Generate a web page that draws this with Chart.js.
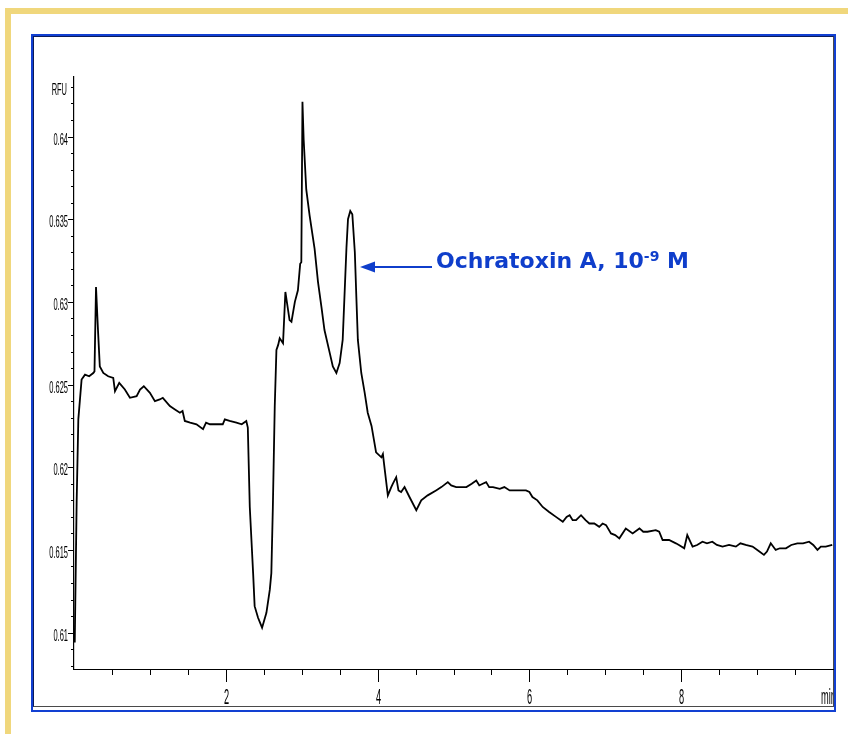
<!DOCTYPE html>
<html>
<head>
<meta charset="utf-8">
<script src="https://cdn.jsdelivr.net/npm/chart.js@4.4.1/dist/chart.umd.min.js"></script>
<style>
    body { margin: 0; background: #fff; }
    #wrap { position: relative; width: 848px; height: 734px; overflow: hidden; background: #fff; }
    .yellow { position: absolute; left: 5px; top: 8px; width: 860px; height: 724px;
              border-top: 6px solid #f0d77c; border-left: 6px solid #f0d77c; border-bottom: 1px solid #f6eccb; }
    .blue { position: absolute; left: 31px; top: 34px; width: 801px; height: 674px; border: 2px solid #1240d2; }
    .inner { position: absolute; left: 33px; top: 36px; width: 799px; height: 669px;
             border-left: 1px solid #0c1c5a; border-top: 1px solid #0c1c5a;
             border-right: 1px solid #4a4a4a; border-bottom: 1px solid #4a4a4a; }
    #chartRfu { position: absolute; left: 0; top: 0; }
    #arrow { position: absolute; left: 0; top: 0; }
    .note { position: absolute; left: 436px; top: 249px; font: bold 22px "DejaVu Sans", Verdana, sans-serif;
            color: #0f3ecb; line-height: 1; white-space: nowrap; }
    .note span { font-size: 14px; vertical-align: 7px; }
</style>
</head>
<body>
<div id="wrap">
    <div class="yellow"></div>
    <div class="blue"></div>
    <div class="inner"></div>
    <canvas id="chartRfu" width="848" height="734"></canvas>
    <svg id="arrow" width="848" height="734">
        <line x1="372" y1="267" x2="432" y2="267" stroke="#0f3ecb" stroke-width="2"/>
        <polygon points="360,267 375,261.5 375,272.5" fill="#0f3ecb"/>
    </svg>
    <div class="note">Ochratoxin A, 10<span>-9</span> M</div>
</div>
<script>
var minutes = [
    0.01, 0.035, 0.057, 0.10, 0.145, 0.20, 0.254, 0.27, 0.29, 0.316,
    0.34, 0.386, 0.45, 0.517, 0.54, 0.596, 0.67, 0.737, 0.825, 0.87,
    0.92, 1.0, 1.066, 1.13, 1.17, 1.263, 1.33, 1.395, 1.43, 1.46,
    1.53, 1.614, 1.70, 1.74, 1.79, 1.88, 1.96, 1.987, 2.05, 2.14,
    2.21, 2.27, 2.29, 2.316, 2.36, 2.38, 2.425, 2.478, 2.535, 2.58,
    2.60, 2.62, 2.645, 2.667, 2.69, 2.71, 2.754, 2.785, 2.84, 2.865,
    2.91, 2.95, 2.98, 2.995, 3.01, 3.026, 3.06, 3.105, 3.17, 3.215,
    3.26, 3.30, 3.37, 3.41, 3.457, 3.50, 3.54, 3.59, 3.61, 3.64,
    3.667, 3.70, 3.72, 3.74, 3.785, 3.83, 3.87, 3.92, 3.98, 4.05,
    4.07, 4.085, 4.135, 4.18, 4.20, 4.245, 4.275, 4.31, 4.355, 4.42,
    4.51, 4.575, 4.66, 4.77, 4.84, 4.925, 4.97, 5.035, 5.09, 5.17,
    5.24, 5.30, 5.34, 5.385, 5.43, 5.47, 5.52, 5.61, 5.67, 5.74,
    5.84, 5.955, 6.0, 6.04, 6.105, 6.175, 6.26, 6.35, 6.44, 6.49,
    6.53, 6.57, 6.615, 6.68, 6.74, 6.79, 6.855, 6.92, 6.965, 7.01,
    7.075, 7.13, 7.185, 7.27, 7.36, 7.45, 7.50, 7.555, 7.665, 7.71,
    7.755, 7.84, 7.93, 7.97, 8.04, 8.08, 8.15, 8.21, 8.28, 8.34,
    8.41, 8.47, 8.545, 8.63, 8.72, 8.78, 8.85, 8.94, 9.03, 9.09,
    9.13, 9.18, 9.245, 9.30, 9.38, 9.45, 9.53, 9.605, 9.685, 9.74,
    9.795, 9.84, 9.905, 9.99
];

var rfu = [
    0.6094, 0.6179, 0.6229, 0.6253, 0.6256, 0.6255, 0.6257, 0.6258, 0.6309, 0.6283,
    0.6261, 0.6257, 0.6255, 0.6254, 0.6246, 0.6251, 0.6247, 0.6242, 0.6243, 0.6247,
    0.6249, 0.6245, 0.6240, 0.6241, 0.6242, 0.6237, 0.6235, 0.6233, 0.6234, 0.6228,
    0.6227, 0.6226, 0.6223, 0.6227, 0.6226, 0.6226, 0.6226, 0.6229, 0.6228, 0.6227,
    0.6226, 0.6228, 0.6224, 0.6176, 0.6136, 0.6116, 0.6109, 0.6103, 0.6112, 0.6126,
    0.6136, 0.6176, 0.6237, 0.6271, 0.6274, 0.6278, 0.6275, 0.6306, 0.6289, 0.6288,
    0.6300, 0.6307, 0.6323, 0.6324, 0.6421, 0.6398, 0.6368, 0.6352, 0.6332, 0.6312,
    0.6297, 0.6283, 0.6269, 0.6261, 0.6257, 0.6263, 0.6277, 0.6333, 0.6350, 0.6355,
    0.6353, 0.6330, 0.6303, 0.6277, 0.6257, 0.6245, 0.6233, 0.6225, 0.6209, 0.6206,
    0.6208, 0.6202, 0.6183, 0.6188, 0.6190, 0.6194, 0.6186, 0.6185, 0.6188, 0.6182,
    0.6174, 0.6180, 0.6183, 0.6186, 0.6188, 0.6191, 0.6189, 0.6188, 0.6188, 0.6188,
    0.6190, 0.6192, 0.6189, 0.6190, 0.6191, 0.6188, 0.6188, 0.6187, 0.6188, 0.6186,
    0.6186, 0.6186, 0.6185, 0.6182, 0.6180, 0.6176, 0.6173, 0.6170, 0.6167, 0.6170,
    0.6171, 0.6168, 0.6168, 0.6171, 0.6168, 0.6166, 0.6166, 0.6164, 0.6166, 0.6165,
    0.6160, 0.6159, 0.6157, 0.6163, 0.6160, 0.6163, 0.6161, 0.6161, 0.6162, 0.6161,
    0.6156, 0.6156, 0.6154, 0.6153, 0.6151, 0.6159, 0.6152, 0.6153, 0.6155, 0.6154,
    0.6155, 0.6153, 0.6152, 0.6153, 0.6152, 0.6154, 0.6153, 0.6152, 0.6149, 0.6147,
    0.6149, 0.6154, 0.6150, 0.6151, 0.6151, 0.6153, 0.6154, 0.6154, 0.6155, 0.6153,
    0.6150, 0.6152, 0.6152, 0.6153
];

var xLabelValues = [2, 4, 6, 8];
var yLabelValues = [0.61, 0.615, 0.62, 0.625, 0.63, 0.635, 0.64];
var yUnitValue = 0.643;

function near(a, b) {
    return Math.abs(a - b) < 1e-7;
}

// narrow, tall labels like the instrument printout
function squashText(ctx, text, x, y, align, sx, font) {
    ctx.save();
    ctx.translate(x, y);
    ctx.scale(sx, 1);
    ctx.font = font;
    ctx.textAlign = align;
    ctx.textBaseline = 'alphabetic';
    ctx.fillStyle = '#000';
    ctx.fillText(text, 0, 0);
    ctx.restore();
}

var axisTicks = {
    id: 'axisTicks',
    afterDraw: function(chart) {
        var ctx = chart.ctx;
        var xs = chart.scales.x;
        var ys = chart.scales.y;
        ctx.save();
        ctx.strokeStyle = '#000';
        ctx.lineWidth = 1;

        ys.ticks.forEach(function(t) {
            var py = Math.round(ys.getPixelForValue(t.value)) + 0.5;
            var major = yLabelValues.some(function(v) { return near(v, t.value); });
            ctx.beginPath();
            ctx.moveTo(ys.right - (major ? 6 : 3), py);
            ctx.lineTo(ys.right, py);
            ctx.stroke();
            if (major) {
                squashText(ctx, String(+t.value.toFixed(3)), ys.right - 6, py + 7, 'right', 0.44, '17px "Liberation Sans", Arial, sans-serif');
            } else if (near(t.value, yUnitValue)) {
                squashText(ctx, 'RFU', ys.right - 7, py + 7, 'right', 0.44, '17px "Liberation Sans", Arial, sans-serif');
            }
        });

        xs.ticks.forEach(function(t) {
            if (t.value <= 0 || t.value >= 10) return;
            var px = Math.round(xs.getPixelForValue(t.value)) + 0.5;
            var major = xLabelValues.indexOf(t.value) >= 0;
            ctx.beginPath();
            ctx.moveTo(px, xs.top);
            ctx.lineTo(px, xs.top + (major ? 13 : 6));
            ctx.stroke();
            if (major) {
                squashText(ctx, String(t.value), px, xs.top + 35, 'center', 0.42, '22px "Liberation Sans", Arial, sans-serif');
            }
        });

        ctx.beginPath();
        ctx.rect(0, 0, xs.right, chart.height);
        ctx.clip();
        squashText(ctx, 'min', xs.getPixelForValue(10) - 12, xs.top + 35, 'left', 0.42, '22px "Liberation Sans", Arial, sans-serif');
        ctx.restore();
    }
};

var canvas = document.querySelector('#chartRfu').getContext('2d');
var rfuChart = new Chart(canvas, {
    type: 'line',
    data: {
        datasets: [{
            label: 'RFU',
            data: minutes.map(function(m, i) { return {x: m, y: rfu[i]}; }),
            borderColor: '#000',
            borderWidth: 1.8,
            pointRadius: 0,
            tension: 0,
            fill: false
        }]
    },
    options: {
        responsive: false,
        animation: false,
        layout: { padding: { left: 0, top: 77, right: 15, bottom: 0 } },
        plugins: { legend: { display: false }, tooltip: { enabled: false } },
        scales: {
            x: {
                type: 'linear',
                min: 0,
                max: 10,
                ticks: { stepSize: 0.5, display: false },
                grid: { display: false },
                border: { display: true, color: '#000', width: 1 },
                afterFit: function(scale) { scale.height = 65; }
            },
            y: {
                type: 'linear',
                min: 0.6078,
                max: 0.6436,
                ticks: { stepSize: 0.001, includeBounds: false, display: false },
                grid: { display: false },
                border: { display: true, color: '#000', width: 1.2 },
                afterFit: function(scale) { scale.width = 74; }
            }
        }
    },
    plugins: [axisTicks]
});
</script>
</body>
</html>
